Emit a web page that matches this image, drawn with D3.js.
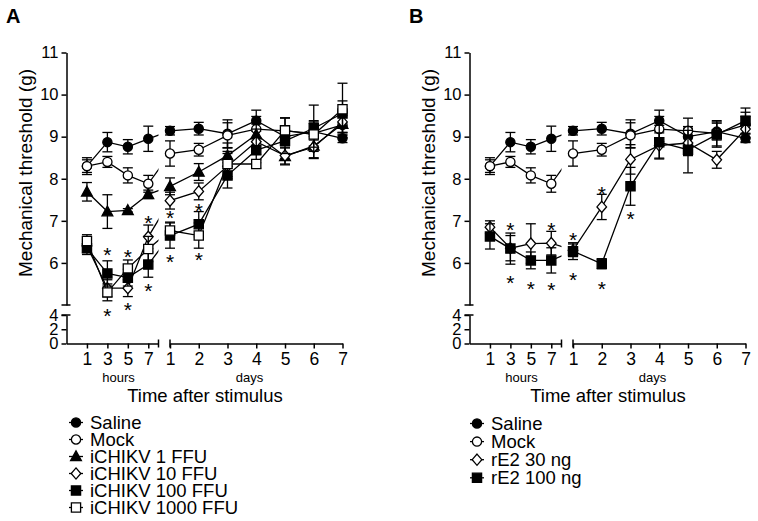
<!DOCTYPE html>
<html><head><meta charset="utf-8">
<script src="https://cdn.jsdelivr.net/npm/d3@7"></script>
<style>
body{margin:0;background:#fff}
svg{display:block}
text{font-family:"Liberation Sans",Arial,Helvetica,sans-serif;fill:#000}
</style>
</head><body>
<svg id="chart" width="758" height="521"></svg>
<script>
// ---------- data ----------
const hourTimes = [1, 3, 5, 7];
const dayTimes = [1, 2, 3, 4, 5, 6, 7];
const hourTickLabels = ["1", "3", "5", "7"];
const dayTickLabels = ["1", "2", "3", "4", "5", "6", "7"];
const yTicksUpper = [6, 7, 8, 9, 10, 11];
const yTicksLower = [0, 2, 4];
// each series: 11 points = hours 1,3,5,7 then days 1..7
const salineMean = [8.30, 8.87, 8.76, 8.95, 9.14, 9.19, 9.07, 9.38, 9.00, 9.12, 8.96];
const salineErr  = [0.20, 0.23, 0.17, 0.30, 0.10, 0.15, 0.33, 0.25, 0.20, 0.20, 0.10];
const mockMean   = [8.30, 8.40, 8.08, 7.88, 8.60, 8.69, 9.03, 9.18, 9.14, 9.08, 9.28];
const mockErr    = [0.15, 0.13, 0.18, 0.20, 0.30, 0.15, 0.30, 0.30, 0.30, 0.30, 0.30];
const ffu1Mean   = [7.69, 7.22, 7.25, 7.63, 7.82, 8.16, 8.55, 9.05, 8.53, 8.78, 9.30];
const ffu1Err    = [0.22, 0.40, 0.04, 0.10, 0.20, 0.20, 0.30, 0.25, 0.20, 0.30, 0.20];
const ffu10Mean  = [6.40, 5.40, 5.40, 6.62, 7.48, 7.70, 8.30, 8.88, 8.55, 8.75, 9.35];
const ffu10Err   = [0.15, 0.20, 0.20, 0.28, 0.20, 0.20, 0.30, 0.30, 0.20, 0.25, 0.25];
const ffu100Mean = [6.35, 5.75, 5.65, 5.96, 6.65, 6.92, 8.08, 8.68, 8.90, 9.20, 9.55];
const ffu100Err  = [0.15, 0.30, 0.20, 0.30, 0.30, 0.30, 0.30, 0.30, 0.30, 0.55, 0.30];
const ffu1000Mean= [6.52, 5.30, 5.87, 6.33, 6.77, 6.65, 8.35, 8.35, 9.15, 9.05, 9.65];
const ffu1000Err = [0.15, 0.20, 0.20, 0.30, 0.20, 0.30, 0.30, 0.10, 0.30, 0.30, 0.62];
const rE30Mean   = [6.85, 6.35, 6.46, 6.47, 6.30, 7.33, 8.46, 8.79, 8.85, 8.45, 9.18];
const rE30Err    = [0.15, 0.30, 0.47, 0.28, 0.15, 0.30, 0.35, 0.30, 0.30, 0.20, 0.30];
const rE100Mean  = [6.63, 6.34, 6.06, 6.06, 6.28, 5.98, 7.82, 8.87, 8.69, 9.05, 9.38];
const rE100Err   = [0.30, 0.37, 0.20, 0.30, 0.20, 0.12, 0.45, 0.40, 0.55, 0.30, 0.30];
// asterisks: [point index, y value]
const starsA = [[1, 6.30], [1, 4.86], [2, 6.25], [2, 5.00], [3, 7.06], [3, 5.46], [4, 7.18], [4, 6.15], [5, 7.34], [5, 6.19]];
const starsB = [[1, 6.91], [1, 5.65], [2, 5.51], [3, 6.91], [3, 5.47], [4, 6.66], [4, 5.71], [5, 7.76], [5, 5.51], [6, 7.15]];

const seriesA = [
  {name: "Saline", mean: salineMean, err: salineErr, shape: "circle", fill: "#000"},
  {name: "Mock", mean: mockMean, err: mockErr, shape: "circle", fill: "#fff"},
  {name: "iCHIKV 1 FFU", mean: ffu1Mean, err: ffu1Err, shape: "triangle", fill: "#000"},
  {name: "iCHIKV 10 FFU", mean: ffu10Mean, err: ffu10Err, shape: "diamond", fill: "#fff"},
  {name: "iCHIKV 100 FFU", mean: ffu100Mean, err: ffu100Err, shape: "square", fill: "#000"},
  {name: "iCHIKV 1000 FFU", mean: ffu1000Mean, err: ffu1000Err, shape: "square", fill: "#fff"}
];
const seriesB = [
  {name: "Saline", mean: salineMean, err: salineErr, shape: "circle", fill: "#000"},
  {name: "Mock", mean: mockMean, err: mockErr, shape: "circle", fill: "#fff"},
  {name: "rE2 30 ng", mean: rE30Mean, err: rE30Err, shape: "diamond", fill: "#fff"},
  {name: "rE2 100 ng", mean: rE100Mean, err: rE100Err, shape: "square", fill: "#000"}
];

// ---------- drawing ----------
const svg = d3.select("#chart");

function markerPath(shape) {
  const p = d3.path();
  if (shape === "circle") { p.arc(0, 0, 4.6, 0, 2 * Math.PI); }
  else if (shape === "square") { p.rect(-4.6, -4.6, 9.2, 9.2); }
  else if (shape === "triangle") { p.moveTo(0, -5.6); p.lineTo(5.4, 4.2); p.lineTo(-5.4, 4.2); p.closePath(); }
  else if (shape === "diamond") { p.moveTo(0, -5.6); p.lineTo(4.8, 0); p.lineTo(0, 5.6); p.lineTo(-4.8, 0); p.closePath(); }
  return p.toString();
}

function drawPanel(ox, letter, series, stars, legendY, legendStep, legendX) {
  const g = svg.append("g").attr("transform", `translate(${ox},0)`);
  const axisX = 66.5;
  const xH = d3.scaleLinear().domain([-1, 8]).range([axisX, 158.5]);
  const xD = d3.scaleLinear().domain([1, 7]).range([170, 342.5]);
  const yUp = d3.scaleLinear().domain([5, 11]).range([305, 52.5]);
  const yLow = d3.scaleLinear().domain([0, 4]).range([343.5, 315]);
  const xOf = i => i < hourTimes.length ? xH(hourTimes[i]) : xD(dayTimes[i - hourTimes.length]);

  // panel letter
  g.append("text").attr("x", 6).attr("y", 23).attr("font-size", 20).attr("font-weight", "bold").text(letter);

  // y axis upper
  const ayU = g.append("g").attr("transform", `translate(${axisX},0)`)
    .call(d3.axisLeft(yUp).tickValues(yTicksUpper).tickSize(5).tickSizeOuter(0).tickPadding(3).tickFormat(d3.format("d")));
  const ayL = g.append("g").attr("transform", `translate(${axisX},0)`)
    .call(d3.axisLeft(yLow).tickValues(yTicksLower).tickSize(5).tickSizeOuter(0).tickPadding(3).tickFormat(d3.format("d")));
  [ayU, ayL].forEach(a => {
    a.selectAll("text").attr("font-size", 16.5).attr("font-family", '"Liberation Sans",Arial,sans-serif');
    a.selectAll("path,line").attr("stroke", "#000").attr("stroke-width", 1.5);
  });
  // break ticks on y axis
  g.append("line").attr("x1", axisX - 5).attr("x2", axisX + 4).attr("y1", yUp(5)).attr("y2", yUp(5)).attr("stroke", "#000").attr("stroke-width", 1.5);
  g.append("line").attr("x1", axisX - 5).attr("x2", axisX + 4).attr("y1", yLow(4)).attr("y2", yLow(4)).attr("stroke", "#000").attr("stroke-width", 1.5);

  // x axis
  const base = yLow(0);
  const axH = g.append("g").attr("transform", `translate(0,${base})`)
    .call(d3.axisBottom(xH).tickValues(hourTimes).tickSize(5).tickSizeOuter(0).tickPadding(4).tickFormat((d, i) => hourTickLabels[i]));
  const axD = g.append("g").attr("transform", `translate(0,${base})`)
    .call(d3.axisBottom(xD).tickValues(dayTimes).tickSize(5).tickSizeOuter(0).tickPadding(4).tickFormat((d, i) => dayTickLabels[i]));
  [axH, axD].forEach(a => {
    a.selectAll("text").attr("font-size", 17.5).attr("font-family", '"Liberation Sans",Arial,sans-serif');
    a.selectAll("path,line").attr("stroke", "#000").attr("stroke-width", 1.5);
  });
  g.append("line").attr("x1", xH(8)).attr("x2", xH(8)).attr("y1", base - 4).attr("y2", base + 4).attr("stroke", "#000").attr("stroke-width", 1.5);
  g.append("line").attr("x1", xD(1)).attr("x2", xD(1)).attr("y1", base - 4).attr("y2", base + 4).attr("stroke", "#000").attr("stroke-width", 1.5);

  // axis labels
  g.append("text").attr("x", xH(4) + 1).attr("y", 382).attr("text-anchor", "middle").attr("font-size", 13).text("hours");
  g.append("text").attr("x", axisX + 183).attr("y", 382).attr("text-anchor", "middle").attr("font-size", 13).text("days");
  g.append("text").attr("x", axisX + 138.5).attr("y", 401.5).attr("text-anchor", "middle").attr("font-size", 18.5).text("Time after stimulus");
  g.append("text").attr("transform", `translate(${axisX - 35},173) rotate(-90)`).attr("text-anchor", "middle").attr("font-size", 19).text("Mechanical threshold (g)");

  // clip for lines (gap between axis segments)
  const clipId = "clip" + letter;
  const cp = g.append("clipPath").attr("id", clipId);
  cp.append("rect").attr("x", axisX).attr("y", 0).attr("width", xH(8) - axisX).attr("height", 400);
  cp.append("rect").attr("x", xD(1)).attr("y", 0).attr("width", 100 + xD(7) - xD(1)).attr("height", 400);

  const line = d3.line().x((d, i) => xOf(i)).y(d => yUp(d));

  series.forEach(s => {
    const sg = g.append("g");
    s.mean.forEach((m, i) => {
      const x = xOf(i), e = s.err[i];
      const y1 = yUp(m + e), y2 = yUp(m - e);
      sg.append("line").attr("x1", x).attr("x2", x).attr("y1", y1).attr("y2", y2).attr("stroke", "#000").attr("stroke-width", 1.3);
      sg.append("line").attr("x1", x - 5).attr("x2", x + 5).attr("y1", y1).attr("y2", y1).attr("stroke", "#000").attr("stroke-width", 1.3);
      sg.append("line").attr("x1", x - 5).attr("x2", x + 5).attr("y1", y2).attr("y2", y2).attr("stroke", "#000").attr("stroke-width", 1.3);
    });
    sg.append("path").attr("d", line(s.mean)).attr("fill", "none").attr("stroke", "#000").attr("stroke-width", 1.3).attr("clip-path", `url(#${clipId})`);
    sg.selectAll("path.mk").data(s.mean).enter().append("path").attr("class", "mk")
      .attr("d", markerPath(s.shape))
      .attr("transform", (d, i) => `translate(${xOf(i)},${yUp(d)})`)
      .attr("fill", s.fill).attr("stroke", "#000").attr("stroke-width", 1.3);
  });

  // asterisks
  const starSize = 21;
  g.selectAll("text.star").data(stars).enter().append("text").attr("class", "star")
    .attr("x", d => xOf(d[0])).attr("y", d => yUp(d[1]) + 0.57 * starSize)
    .attr("text-anchor", "middle").attr("font-size", starSize).text("*");

  // legend
  series.forEach((s, i) => {
    const y = legendY + i * legendStep;
    g.append("line").attr("x1", legendX - 7).attr("x2", legendX + 7).attr("y1", y).attr("y2", y).attr("stroke", "#000").attr("stroke-width", 1.3);
    g.append("path").attr("d", markerPath(s.shape)).attr("transform", `translate(${legendX},${y})`)
      .attr("fill", s.fill).attr("stroke", "#000").attr("stroke-width", 1.3);
    g.append("text").attr("x", legendX + 14).attr("y", y + 6.5).attr("font-size", 18.5).text(s.name);
  });
}

drawPanel(0, "A", seriesA, starsA, 422.5, 17, 76);
drawPanel(403, "B", seriesB, starsB, 423.5, 18.1, 74);
</script>
</body></html>
